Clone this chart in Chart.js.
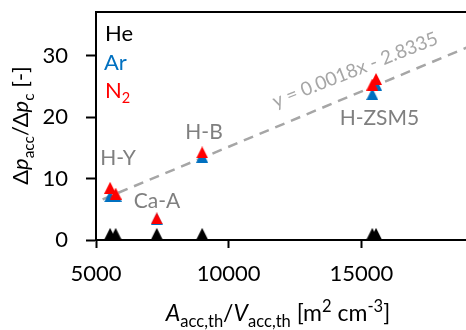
<!DOCTYPE html>
<html><head><meta charset="utf-8">
<script src="https://cdn.jsdelivr.net/npm/chart.js@4"></script>
<style>html,body{margin:0;padding:0;background:#fff}</style>
</head><body>
<canvas id="c" width="466" height="330" style="width:466px;height:330px;display:block"></canvas>
<script>
// ---- data ----
const heX = [5530, 5740, 7290, 9000, 15410, 15550];
const heY = [1.0, 1.0, 1.0, 1.0, 1.0, 1.0];
const arX = [5530, 5740, 7290, 9000, 15410, 15550];
const arY = [7.1, 7.2, 3.4, 13.55, 23.75, 25.3];
const n2X = [5530, 5740, 7290, 9000, 15410, 15550];
const n2Y = [8.5, 7.55, 3.5, 14.25, 25.3, 26.2];
const trendX = [5250, 19000];
const trendY = [6.62, 31.37];
const sampleNames = ['H-Y', 'Ca-A', 'H-B', 'H-ZSM5'];
const sampleAtX = [5830, 7300, 9070, 15680];
const sampleAtY = [13.3, 6.3, 17.6, 19.8];
const xTicks = [5000, 10000, 15000];
const yTicks = [0, 10, 20, 30];
const equation = 'y = 0.0018x - 2.8335';

const FAM = 'Lato, "Open Sans", "DejaVu Sans", sans-serif';
const FS = 22;
const pts = (xs, ys) => xs.map((x, i) => ({x, y: ys[i]}));

function triImg(color) {
  const w = 12, h = 12;
  const c = document.createElement('canvas');
  c.width = w; c.height = h;
  const g = c.getContext('2d');
  g.fillStyle = color;
  g.beginPath(); g.moveTo(w / 2, 0); g.lineTo(w, h); g.lineTo(0, h); g.closePath(); g.fill();
  return c;
}

function drawRich(ctx, runs, x, y, size, color, align, subScale) {
  const ss = subScale || 0.66;
  let w = 0;
  const parts = runs.map(r => {
    const s = (r.sub || r.sup) ? size * ss : size;
    const f = (r.it ? 'italic ' : '') + s + 'px ' + FAM;
    ctx.font = f;
    const m = ctx.measureText(r.t).width;
    w += m;
    return {r, f, m};
  });
  let cx = align === 'center' ? x - w / 2 : x;
  ctx.fillStyle = color;
  ctx.textAlign = 'left';
  ctx.textBaseline = 'alphabetic';
  for (const p of parts) {
    ctx.font = p.f;
    const dy = p.r.sub ? size * 0.26 : (p.r.sup ? -size * 0.38 : 0);
    ctx.fillText(p.r.t, cx, y + dy);
    cx += p.m;
  }
}

const decor = {
  id: 'decor',
  afterDraw(chart) {
    const ctx = chart.ctx, a = chart.chartArea;
    const xs = chart.scales.x, ys = chart.scales.y;
    ctx.save();
    // top border
    ctx.strokeStyle = '#000'; ctx.lineWidth = 2;
    ctx.beginPath(); ctx.moveTo(a.left - 1, a.top); ctx.lineTo(a.right + 2, a.top); ctx.stroke();
    // legend text
    drawRich(ctx, [{t: 'He'}], 105, 41, FS, '#000', 'left');
    drawRich(ctx, [{t: 'Ar'}], 104, 69.5, FS, '#0070C0', 'left');
    drawRich(ctx, [{t: 'N'}, {t: '2', sub: true}], 105, 97.5, FS, '#FF0000', 'left');
    // sample labels
    ctx.font = '21px ' + FAM;
    ctx.fillStyle = '#7F7F7F'; ctx.textAlign = 'center'; ctx.textBaseline = 'middle';
    sampleNames.forEach((n, i) => {
      ctx.fillText(n, xs.getPixelForValue(sampleAtX[i]), ys.getPixelForValue(sampleAtY[i]));
    });
    // equation
    ctx.save();
    ctx.translate(xs.getPixelForValue(14760), ys.getPixelForValue(27.66));
    ctx.rotate(-21.5 * Math.PI / 180);
    ctx.font = '19px ' + FAM;
    ctx.fillStyle = '#A6A6A6';
    ctx.fillText(equation, 0, 0);
    ctx.restore();
    // axis titles
    drawRich(ctx, [{t: 'A', it: true}, {t: 'acc,th', sub: true}, {t: '/'}, {t: 'V', it: true}, {t: 'acc,th', sub: true},
      {t: ' [m'}, {t: '2', sup: true}, {t: ' cm'}, {t: '-3', sup: true}, {t: ']'}], 278, 321, 23, '#000', 'center', 0.72);
    ctx.save();
    ctx.translate(28, 125.5);
    ctx.rotate(-Math.PI / 2);
    drawRich(ctx, [{t: 'Δ'}, {t: 'p', it: true}, {t: 'acc', sub: true}, {t: '/Δ'}, {t: 'p', it: true}, {t: 'c', sub: true}, {t: ' [-]'}], 0, 0, FS, '#000', 'center', 0.7);
    ctx.restore();
    ctx.restore();
  }
};

const tri = (color) => ({pointStyle: triImg(color), pointRadius: 6, pointHoverRadius: 6,
  backgroundColor: color, borderColor: color, borderWidth: 0, showLine: false});
const noPad = s => { s.paddingTop = 0; s.paddingBottom = 0; s.paddingLeft = 0; s.paddingRight = 0; };

new Chart(document.getElementById('c'), {
  type: 'scatter',
  data: {
    datasets: [
      Object.assign({label: 'N2', data: pts(n2X, n2Y), order: 1}, tri('#FF0000')),
      Object.assign({label: 'Ar', data: pts(arX, arY), order: 2}, tri('#0070C0')),
      Object.assign({label: 'He', data: pts(heX, heY), order: 3}, tri('#000000')),
      {type: 'line', label: 'fit', data: pts(trendX, trendY), order: 4, borderColor: '#A6A6A6',
        borderWidth: 2.5, borderDash: [10, 7], pointRadius: 0, fill: false, showLine: true}
    ]
  },
  options: {
    responsive: false, animation: false, devicePixelRatio: 1,
    layout: {autoPadding: false, padding: {top: 12, right: 0, left: 0, bottom: 0}},
    plugins: {legend: {display: false}, tooltip: {enabled: false}},
    scales: {
      x: {
        type: 'linear', min: 5000, max: 18940,
        afterBuildTicks: s => { s.ticks = xTicks.map(v => ({value: v})); },
        afterFit: s => { s.height = 90; noPad(s); },
        grid: {display: true, drawOnChartArea: false, drawTicks: true, tickLength: 8, tickWidth: 2, tickColor: '#000'},
        border: {display: true, color: '#000', width: 2},
        ticks: {color: '#000', font: {family: FAM, size: FS}, padding: 13, maxRotation: 0, autoSkip: false,
          callback: v => String(v)}
      },
      y: {
        type: 'linear', min: 0, max: 37.1,
        afterBuildTicks: s => { s.ticks = yTicks.map(v => ({value: v})); },
        afterFit: s => { s.width = 96; noPad(s); },
        grid: {display: true, drawOnChartArea: false, drawTicks: true, tickLength: 10, tickWidth: 2, tickColor: '#000'},
        border: {display: true, color: '#000', width: 2},
        ticks: {color: '#000', font: {family: FAM, size: FS}, padding: 18, autoSkip: false,
          callback: v => String(v)}
      }
    }
  },
  plugins: [decor]
});
</script>
</body></html>
